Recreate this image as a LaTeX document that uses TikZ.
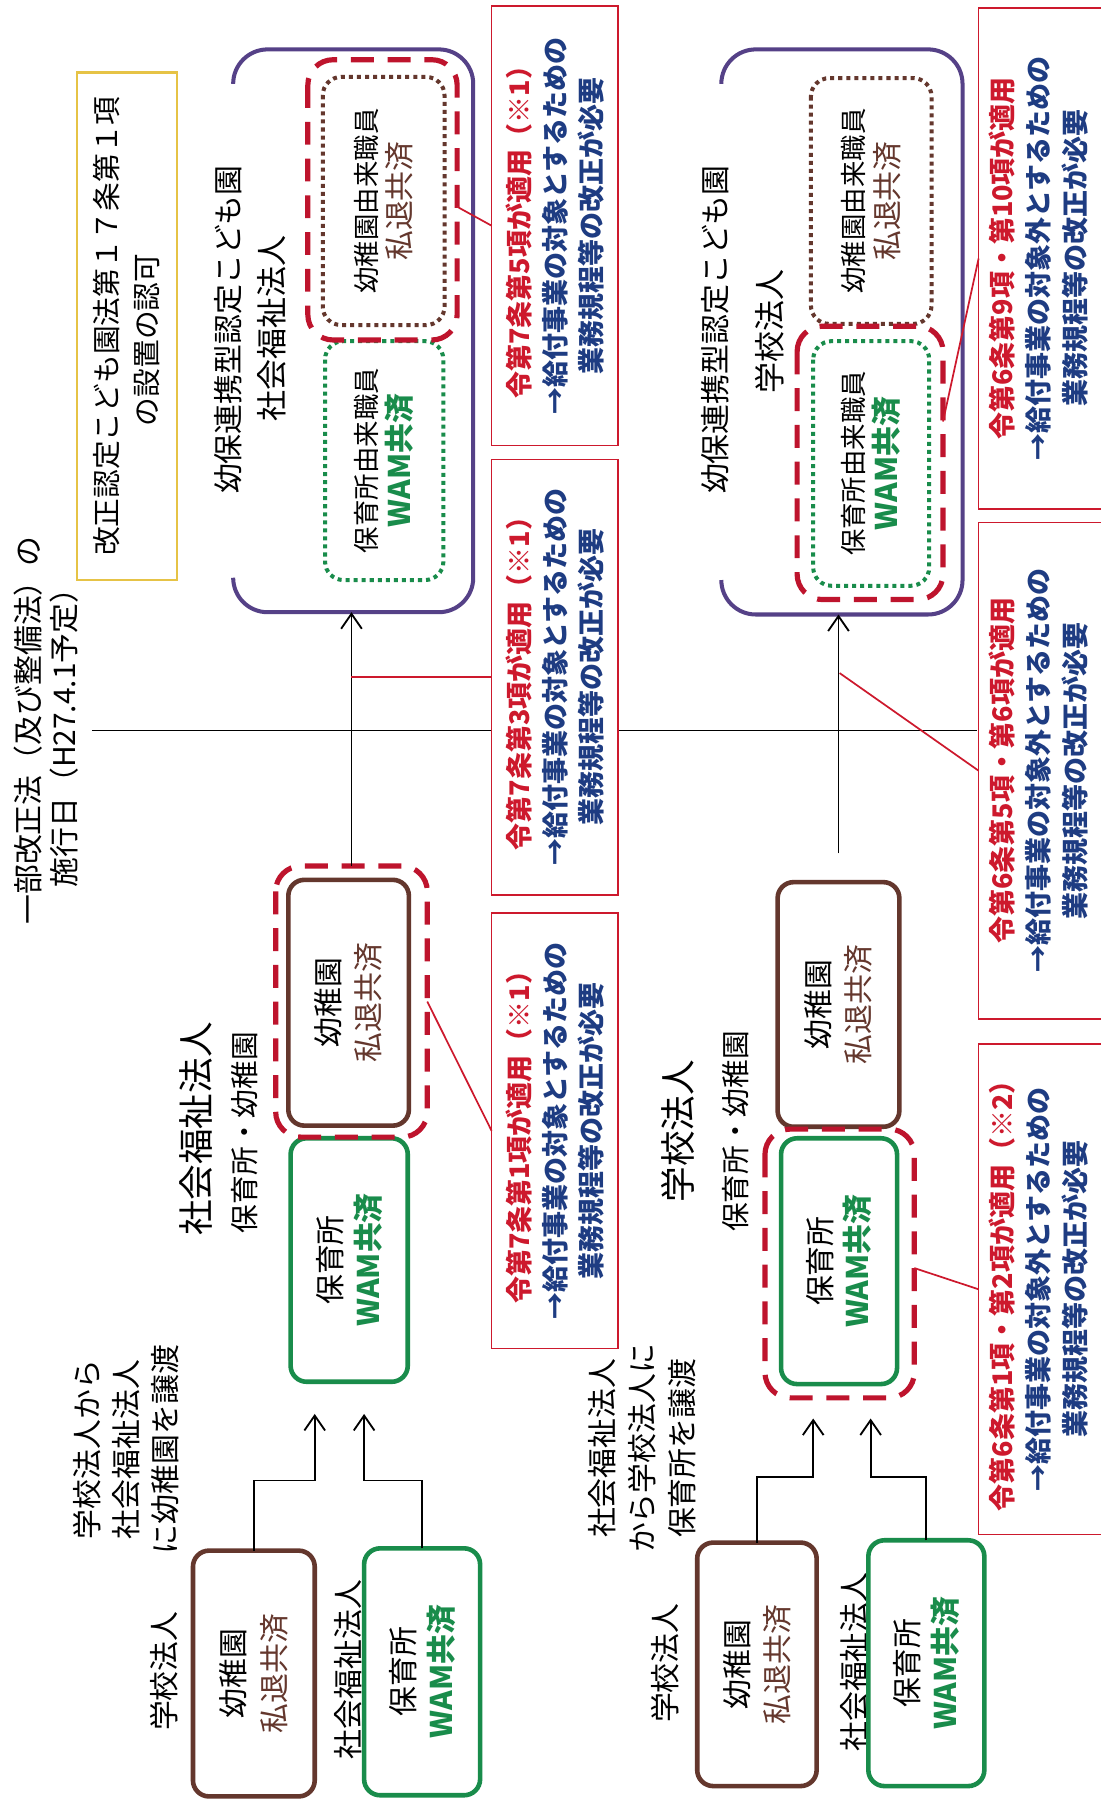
\documentclass[tikz,border=0pt]{standalone}
\usepackage{fontspec}
\setmainfont{Noto Sans CJK JP}
\usetikzlibrary{arrows.meta,calc}
\definecolor{cred}{RGB}{205,25,45}
\definecolor{cdash}{RGB}{190,20,45}
\definecolor{cnavy}{RGB}{30,60,130}
\definecolor{cgreen}{RGB}{25,140,75}
\definecolor{cbrown}{RGB}{100,55,45}
\definecolor{cpurple}{RGB}{85,65,135}
\definecolor{cyellow}{RGB}{230,195,70}
\newcommand{\jfs}[2]{\fontsize{#1pt}{#2pt}\selectfont}
\newcommand{\wam}{{\jfs{26}{30}\bfseries\color{cgreen}WAM共済}}
\newcommand{\shitai}{{\jfs{26}{30}\color{cbrown}私退共済}}
\begin{document}
\begin{tikzpicture}[x=1pt,y=-1pt,
  rot/.style={rotate=90,inner sep=0pt,outer sep=0pt},
  lbl/.style={rot,align=center},
  kbox/.style={rot,draw=cbrown,line width=4pt,fill=white,rounded corners=14pt,align=center,font=\jfs{26}{35}},
  hbox/.style={rot,draw=cgreen,line width=4pt,fill=white,rounded corners=14pt,align=center,font=\jfs{26}{33}},
  kdot/.style={rot,draw=cbrown,line width=3.5pt,dash pattern=on 3.5pt off 3.5pt,fill=white,rounded corners=16pt,align=center,font=\jfs{23}{30}},
  hdot/.style={rot,draw=cgreen,line width=3.5pt,dash pattern=on 3.5pt off 3.5pt,fill=white,rounded corners=16pt,align=center,font=\jfs{23}{30}},
  rdash/.style={rot,draw=cdash,line width=4.5pt,dash pattern=on 20pt off 12pt,rounded corners=22pt},
  note/.style={rot,draw=cred,line width=1.4pt,fill=white,align=center,font=\bfseries\jfs{23.5}{31.5}},
  notebox/.style={rot,draw=cred,line width=1.4pt,fill=white},
  notetext/.style={rot,align=center,font=\bfseries\jfs{23.5}{31.5}},
  purp/.style={draw=cpurple,line width=3.5pt,rounded corners=30pt},
  arr/.style={line width=1.6pt,-{Straight Barb[length=13pt,width=18pt]}},
  rline/.style={draw=cred,line width=1.5pt}
]
\fill[white] (0,0) rectangle (958,1568);
\useasboundingbox (0,0) rectangle (958,1568);

% ---------- timeline ----------
\node[lbl,font=\jfs{26}{31}] (title) at (40,636) {一部改正法（及び整備法）の\\施行日（H27.4.1予定）};
\coordinate (tlstart) at (80,636);
\coordinate (tlend) at (851,636);
\draw[line width=1.5pt] (tlstart) -- (tlend);

% ---------- yellow box ----------
\node[lbl,draw=cyellow,line width=2pt,minimum width=442pt,minimum height=87pt,font=\jfs{25}{35}] (law) at (110.5,284) {改正認定こども園法第１７条第１項\\の設置の認可\hspace*{24pt}};

% ---------- purple frames ----------
\draw[purp] (203,73) -- (203,43) -- (412,43) -- (412,533) -- (203,533) -- (203,503);
\draw[purp] (628,73) -- (628,43) -- (838,43) -- (838,535) -- (628,535) -- (628,505);
\coordinate (pTLb) at (304,533);
\coordinate (pTRb) at (730,535);

\node[lbl,font=\jfs{26}{30}] (hTL1) at (199,287) {幼保連携型認定こども園};
\node[lbl,font=\jfs{27}{30}] (hTL2) at (237,286) {社会福祉法人};
\node[lbl,font=\jfs{26}{30}] (hTR1) at (623,287) {幼保連携型認定こども園};
\node[lbl,font=\jfs{27}{30}] (hTR2) at (670,289) {学校法人};

% top-left inner boxes
\node[hdot,minimum width=208pt,minimum height=103pt] (hdotTL) at (334.5,401) {保育所由来職員\\\wam};
\node[rdash,minimum width=244pt,minimum height=130pt] (dashTL) at (333,174) {};
\node[kdot,minimum width=216pt,minimum height=106pt] (kdotTL) at (334,175) {幼稚園由来職員\\\shitai};

% top-right inner boxes
\node[kdot,minimum width=214pt,minimum height=105pt] (kdotTR) at (758.5,175) {幼稚園由来職員\\\shitai};
\node[rdash,minimum width=238pt,minimum height=127pt] (dashTR) at (757.5,403) {};
\node[hdot,minimum width=213pt,minimum height=101pt] (hdotTR) at (758.5,403.5) {保育所由来職員\\\wam};

% ---------- middle row ----------
\node[lbl,font=\jfs{31}{34}] (mL1) at (171,983) {社会福祉法人};
\node[lbl,font=\jfs{25}{30}] (mL2) at (213,986) {保育所・幼稚園};
\node[lbl,font=\jfs{31}{34}] (mR1) at (590,985) {学校法人};
\node[lbl,font=\jfs{25}{30}] (mR2) at (640,985) {保育所・幼稚園};

\node[hbox,minimum width=212pt,minimum height=102pt] (hML) at (304,1097) {保育所\\\wam};
\node[rdash,minimum width=236pt,minimum height=132pt] (dashML) at (306,872) {};
\node[kbox,minimum width=214pt,minimum height=105pt] (kML) at (303.5,873) {幼稚園\\\shitai};

\node[kbox,minimum width=213pt,minimum height=106pt] (kMR) at (730,874.5) {幼稚園\\\shitai};
\node[rdash,minimum width=234pt,minimum height=130pt] (dashMR) at (731,1100) {};
\node[hbox,minimum width=214pt,minimum height=101pt] (hMR) at (730.5,1098) {保育所\\\wam};

% ---------- bottom row ----------
\node[lbl,font=\jfs{26}{34}] (trL) at (110,1262) {学校法人から\\社会福祉法人\\に幼稚園を譲渡};
\node[lbl,font=\jfs{26}{35}] (trR) at (559,1261) {社会福祉法人\\から学校法人に\\保育所を譲渡};

\node[lbl,font=\jfs{26}{30}] (lBL1) at (143,1455) {学校法人};
\node[lbl,font=\jfs{26}{30}] (lBL2) at (303,1453.5) {社会福祉法人};
\node[lbl,font=\jfs{26}{30}] (lBR1) at (579,1448) {学校法人};
\node[lbl,font=\jfs{26}{30}] (lBR2) at (744,1447) {社会福祉法人};

\node[kbox,minimum width=214pt,minimum height=106pt] (kBL) at (221,1457) {幼稚園\\\shitai};
\node[hbox,minimum width=215pt,minimum height=101pt] (hBL) at (367.5,1455.5) {保育所\\\wam};
\node[kbox,minimum width=212pt,minimum height=104pt] (kBR) at (659,1449) {幼稚園\\\shitai};
\node[hbox,minimum width=214pt,minimum height=101pt] (hBR) at (806.5,1448) {保育所\\\wam};

% ---------- arrows ----------
\draw[arr] (dashML.east) -- (dashML.east |- pTLb);
\coordinate (aTRs) at ($(kMR.east)+(0,-25)$);
\draw[arr] (aTRs) -- (aTRs |- pTRb);

\coordinate (elbA) at (274,1289);
\coordinate (tipA) at (274,1231);
\coordinate (elbB) at (317,1289);
\coordinate (tipB) at (317,1231);
\draw[arr] (kBL.east) |- (elbA) -- (tipA);
\draw[arr] (hBL.east) |- (elbB) -- (tipB);

\coordinate (elbC) at (708,1286);
\coordinate (tipC) at (708,1235);
\coordinate (elbD) at (758,1286);
\coordinate (tipD) at (758,1235);
\draw[arr] (kBR.east) |- (elbC) -- (tipC);
\draw[arr] (hBR.east) |- (elbD) -- (tipD);

% ---------- notes ----------
\node[note,minimum width=383pt,minimum height=110pt] (n1) at (483,196.5)
  {\textcolor{cred}{令第7条第5項が適用（※1）}\\\textcolor{cnavy}{→給付事業の対象とするための}\\\textcolor{cnavy}{業務規程等の改正が必要}};
\node[note,minimum width=379pt,minimum height=110pt] (n2) at (483,589.5)
  {\textcolor{cred}{令第7条第3項が適用（※1）}\\\textcolor{cnavy}{→給付事業の対象とするための}\\\textcolor{cnavy}{業務規程等の改正が必要}};
\node[note,minimum width=379pt,minimum height=110pt] (n3) at (483,984.5)
  {\textcolor{cred}{令第7条第1項が適用（※1）}\\\textcolor{cnavy}{→給付事業の対象とするための}\\\textcolor{cnavy}{業務規程等の改正が必要}};

\node[notebox,minimum width=436pt,minimum height=140pt] (n4) at (922,225) {};
\node[notetext] (n4t) at (904,225)
  {\textcolor{cred}{令第6条第9項・第10項が適用}\\\textcolor{cnavy}{→給付事業の対象外とするための}\\\textcolor{cnavy}{業務規程等の改正が必要}};
\node[notebox,minimum width=432pt,minimum height=140pt] (n5) at (922,671) {};
\node[notetext] (n5t) at (904,671)
  {\textcolor{cred}{令第6条第5項・第6項が適用}\\\textcolor{cnavy}{→給付事業の対象外とするための}\\\textcolor{cnavy}{業務規程等の改正が必要}};
\node[notebox,minimum width=427pt,minimum height=140pt] (n6) at (922,1122.5) {};
\node[notetext] (n6t) at (904,1122.5)
  {\textcolor{cred}{令第6条第1項・第2項が適用（※2）}\\\textcolor{cnavy}{→給付事業の対象外とするための}\\\textcolor{cnavy}{業務規程等の改正が必要}};

% ---------- red connectors ----------
\draw[rline] ($(dashTL.south)+(0,6)$) -- (n1.north);
\draw[rline] (dashML.east |- n2.north) -- (n2.north);
\draw[rline] (dashML.south) -- (n3.north);
\draw[rline] ($(dashTR.south)+(0,-36)$) -- (n4.north);
\coordinate (c5s) at (731,586);
\draw[rline] (c5s) -- (n5.north);
\draw[rline] ($(dashMR.south)+(0,4)$) -- (n6.north);
\end{tikzpicture}
\end{document}
